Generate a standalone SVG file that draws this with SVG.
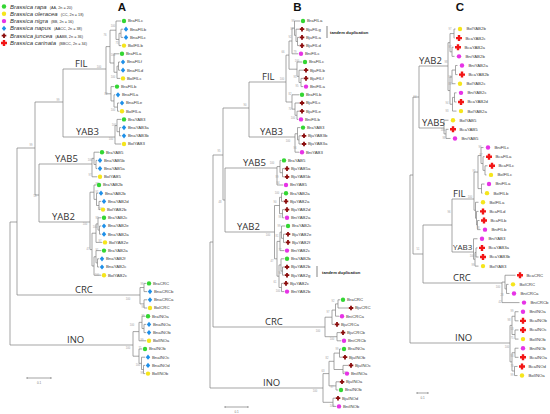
<svg xmlns="http://www.w3.org/2000/svg" xmlns:xlink="http://www.w3.org/1999/xlink" width="550" height="414" viewBox="0 0 550 414">
<style>
.t{fill:none;stroke:#7f7f7f;stroke-width:0.7}
.sb{fill:none;stroke:#666;stroke-width:0.6}
.lf text{font-family:"Liberation Sans",Arial,sans-serif;font-size:4.3px;fill:#3a3a3a}
.bs{font-family:"Liberation Sans",Arial,sans-serif;font-size:2.6px;fill:#9a9a9a;text-anchor:middle}
.cl{font-family:"Open Sans","Liberation Sans",sans-serif;font-size:9.5px;fill:#333}
.pl{font-family:"Liberation Sans",Arial,sans-serif;font-weight:bold;font-size:11.5px;fill:#111;text-anchor:middle}
.td{font-family:"Liberation Sans",Arial,sans-serif;font-weight:bold;font-size:4.2px;fill:#222}
.lg{font-family:"Liberation Sans",Arial,sans-serif;font-style:italic;font-size:6px;fill:#333}
.lg2{font-style:normal;font-size:3.8px}
.sc{font-family:"Liberation Sans",Arial,sans-serif;font-size:3px;fill:#777;text-anchor:middle}
</style>
<defs>
<circle id="mg" r="2.2" fill="#33d633"/>
<circle id="my" r="2.2" fill="#f5e51b"/>
<circle id="mm" r="2.2" fill="#e633e6"/>
<path id="mb" d="M0-2.6L2.2 0L0 2.6L-2.2 0Z" fill="#1e8fe8"/>
<path id="mj" d="M-0.9-2.3h1.8v1.4h1.4v1.8h-1.4v1.4h-1.8v-1.4h-1.4v-1.8h1.4z" fill="#8b0d0d"/>
<path id="mc" d="M-1.2-3h2.4v1.8h1.8v2.4h-1.8v1.8h-2.4v-1.8h-1.8v-2.4h1.8z" fill="#f21515"/>
</defs>
<rect width="550" height="414" fill="#fff"/>

<g id="legend">
<use href="#mg" x="4" y="6.5"/><text class="lg" x="10" y="8.5">Brassica rapa<tspan class="lg2" dx="3">(AA, 2n = 20)</tspan></text>
<use href="#my" x="4" y="13.8"/><text class="lg" x="10" y="15.8">Brassica oleracea<tspan class="lg2" dx="3">(CC, 2n = 18)</tspan></text>
<use href="#mm" x="4" y="21.1"/><text class="lg" x="10" y="23.1">Brassica nigra<tspan class="lg2" dx="3">(BB, 2n = 16)</tspan></text>
<use href="#mb" x="4" y="28.4"/><text class="lg" x="10" y="30.4">Brassica napus<tspan class="lg2" dx="3">(AACC, 2n = 38)</tspan></text>
<use href="#mj" x="4" y="35.7"/><text class="lg" x="10" y="37.7">Brassica juncea<tspan class="lg2" dx="3">(AABB, 2n = 36)</tspan></text>
<use href="#mc" x="4" y="43"/><text class="lg" x="10" y="45">Brassica carinata<tspan class="lg2" dx="3">(BBCC, 2n = 34)</tspan></text>
</g>

<g id="panel-labels">
<text class="pl" x="122" y="10.5">A</text>
<text class="pl" x="297.5" y="10.5">B</text>
<text class="pl" x="460" y="11">C</text>
</g>

<g id="connectors">
<path class="t" d="M121 29.2V37.4M121 29.2H123.2M121 37.4H123.2M119 33.3V45.6M119 33.3H121M119 45.6H121.2M116 21V39.45M116 21H121.2M116 39.45H119M118.5 62V70.2M118.5 62H120.2M118.5 70.2H120.2M117 66.1V78.4M117 66.1H118.5M117 78.4H120.2M114 53.8V72.25M114 53.8H119.2M114 72.25H117M110 30.2V63M110 30.2H116M110 63H114M117.5 103V111.2M117.5 103H119.2M117.5 111.2H119.2M114 94.8V107.1M114 94.8H115.2M114 107.1H117.5M111 86.6V100.95M111 86.6H114.2M111 100.95H114M106 46.6V93.8M106 46.6H110M106 93.8H111M63 69H106M119.5 127.6V135.8M119.5 127.6H121.2M119.5 135.8H121.2M117 119.4V131.7M117 119.4H121.2M117 131.7H119.5M115 125.55V144M115 125.55H117M115 144H121.2M63 137H115M63 69V137M35 102H63M96 160.4V168.6M96 160.4H97.2M96 168.6H97.2M94 152.2V164.5M94 152.2H99.2M94 164.5H96M92 158.35V176.8M92 158.35H94M92 176.8H97.2M39 164H92M99 201.4V209.6M99 201.4H101.2M99 209.6H100.2M96.5 193.2V205.5M96.5 193.2H98.2M96.5 205.5H99M94 185V199.35M94 185H96.2M94 199.35H96.5M99.5 226V234.2M99.5 226H101.2M99.5 234.2H101.2M98 217.8V230.1M98 217.8H101.2M98 230.1H99.5M96 223.95V242.4M96 223.95H98M96 242.4H102.2M97.5 258.8V267M97.5 258.8H99.2M97.5 267H99.2M96 250.6V262.9M96 250.6H101.2M96 262.9H97.5M94 256.75V275.2M94 256.75H96M94 275.2H101.2M92 233.2V266M92 233.2H96M92 266H94M90 192.2V249.6M90 192.2H94M90 249.6H92M39 222H90M39 164V222M35 195H39M35 102V195M17 148H35M144 283.4V291.6M144 283.4H146.2M144 291.6H147.2M144 299.8V308M144 299.8H147.2M144 308H147.2M140 287.5V303.9M140 287.5H144M140 303.9H144M17 295H140M17 148V295M10 222H17M144 324.4V332.6M144 324.4H146.2M144 332.6H146.2M142 316.2V328.5M142 316.2H145.2M142 328.5H144M139 322.35V340.8M139 322.35H142M139 340.8H146.2M143.5 365.4V373.6M143.5 365.4H145.2M143.5 373.6H145.2M141.5 357.2V369.5M141.5 357.2H145.2M141.5 369.5H143.5M139 349V363.35M139 349H142.2M139 363.35H141.5M133 331.6V356.2M133 331.6H139M133 356.2H139M10 345H133M10 222V345"/>
<path class="t" d="M297.5 37.4V45.6M297.5 37.4H299.2M297.5 45.6H299.2M296 29.2V41.5M296 29.2H299.2M296 41.5H297.5M294.5 21V35.35M294.5 21H300.2M294.5 35.35H296M292 28.2V53.8M292 28.2H294.5M292 53.8H298.2M301 78.4V86.6M301 78.4H303.2M301 86.6H303.2M299 70.2V82.5M299 70.2H303.2M299 82.5H301M297 62V76.35M297 62H302.2M297 76.35H299M289 41V69.2M289 41H292M289 69.2H297M297 111.2V119.4M297 111.2H299.2M297 119.4H298.2M295 103V115.3M295 103H299.2M295 115.3H297M292 94.8V109.15M292 94.8H299.2M292 109.15H295M286 55.1V102M286 55.1H289M286 102H292M249 82H286M299 135.8V144M299 135.8H301.2M299 144H301.2M297.5 127.6V139.9M297.5 127.6H300.2M297.5 139.9H299M295 133.75V152.2M295 133.75H297.5M295 152.2H299.2M249 137H295M249 82V137M223 108H249M282.5 168.6V176.8M282.5 168.6H284.2M282.5 176.8H284.2M280 160.4V172.7M280 160.4H281.2M280 172.7H282.5M277 166.55V185M277 166.55H280M277 185H283.2M225 168H277M281.5 193.2V201.4M281.5 193.2H283.2M281.5 201.4H283.2M282.5 209.6V217.8M282.5 209.6H284.2M282.5 217.8H284.2M279.5 197.3V213.7M279.5 197.3H281.5M279.5 213.7H282.5M283.5 234.2V242.4M283.5 234.2H285.2M283.5 242.4H285.2M281.5 226V238.3M281.5 226H285.2M281.5 238.3H283.5M280 232.15V250.6M280 232.15H281.5M280 250.6H284.2M282.5 267V275.2M282.5 267H284.2M282.5 275.2H284.2M281 258.8V271.1M281 258.8H284.2M281 271.1H282.5M281.5 283.4V291.6M281.5 283.4H283.2M281.5 291.6H284.2M279 264.95V287.5M279 264.95H281M279 287.5H281.5M277 241.4V276.2M277 241.4H280M277 276.2H279M274.5 205.5V258.8M274.5 205.5H279.5M274.5 258.8H277M225 232H274.5M225 168V232M223 200H225M223 108V200M213 155H223M338 299.8V308M338 299.8H340.2M338 308H348.2M335.5 303.9V316.2M335.5 303.9H338M335.5 316.2H339.2M332 310.05V324.4M332 310.05H335.5M332 324.4H334.2M337 332.6V340.8M337 332.6H340.2M337 340.8H341.2M325 317.2V336.7M325 317.2H332M325 336.7H337M213 327H325M213 155V327M210 242H213M339.5 349V357.2M339.5 349H341.2M339.5 357.2H342.2M343 365.4V373.6M343 365.4H348.2M343 373.6H344.2M334 353.1V369.5M334 353.1H339.5M334 369.5H343M336 381.8V390M336 381.8H339.2M336 390H338.2M329 361.3V385.9M329 361.3H334M329 385.9H336M333 398.2V406.4M333 398.2H335.2M333 406.4H336.2M323 373.6V402.3M323 373.6H329M323 402.3H333M210 388H323M210 242V388"/>
<path class="t" d="M454 29V38.12M454 29H455.5M454 38.12H454.5M452 47.24V56.36M452 47.24H453.5M452 56.36H454.5M450 33.56V51.8M450 33.56H454M450 51.8H452M455.5 65.48V74.6M455.5 65.48H457.5M455.5 74.6H457.5M452 70.04V83.72M452 70.04H455.5M452 83.72H455.5M454.5 92.84V101.96M454.5 92.84H456.5M454.5 101.96H456.5M452.5 97.4V111.08M452.5 97.4H454.5M452.5 111.08H456.5M450 76.88V104.24M450 76.88H452M450 104.24H452.5M448 42.68V90.56M448 42.68H450M448 90.56H450M419 66H448M446 129.32V138.44M446 129.32H448.5M446 138.44H450.5M444 120.2V133.88M444 120.2H448.5M444 133.88H446M419 128H444M419 66V128M413 97H419M485 165.8V174.92M485 165.8H487.5M485 174.92H486.5M483 156.68V170.36M483 156.68H484.5M483 170.36H485M481 147.56V163.52M481 147.56H483.5M481 163.52H483M481.5 184.04V193.16M481.5 184.04H484.5M481.5 193.16H482.5M478 155.54V188.6M478 155.54H481M478 188.6H481.5M477.5 220.52V229.64M477.5 220.52H479.5M477.5 229.64H480.5M476.5 211.4V225.08M476.5 211.4H478.5M476.5 225.08H477.5M475.5 202.28V218.24M475.5 202.28H478.5M475.5 218.24H476.5M474 172.07V210.26M474 172.07H478M474 210.26H475.5M452 199H474M476 247.88V257M476 247.88H477.5M476 257H478.5M475 252.44V266.12M475 252.44H476M475 266.12H478.5M473.5 238.76V259.28M473.5 238.76H477.5M473.5 259.28H475M452 252H473.5M452 199V252M423 225H452M506.5 284.36V293.48M506.5 284.36H508.5M506.5 293.48H509.5M505 275.24V288.92M505 275.24H515.5M505 288.92H506.5M502 282.08V302.6M502 282.08H505M502 302.6H519.5M423 283H502M423 225V283M413 254H423M413 97V254M410 175H413M515 311.72V320.84M515 311.72H518.5M515 320.84H518.5M515 329.96V339.08M515 329.96H518.5M515 339.08H518.5M512 316.28V334.52M512 316.28H515M512 334.52H515M515 348.2V357.32M515 348.2H518.5M515 357.32H518.5M514.5 366.44V375.56M514.5 366.44H517.5M514.5 375.56H517.5M512 352.76V371M512 352.76H515M512 371H514.5M510 325.4V361.88M510 325.4H512M510 361.88H512M410 343H510M410 175V343"/>
</g>

<g id="clade-labels">
<text class="cl" x="75" y="66.5">FIL</text>
<text class="cl" x="76" y="134.5">YAB3</text>
<text class="cl" x="55" y="161.5">YAB5</text>
<text class="cl" x="52" y="219.5">YAB2</text>
<text class="cl" x="75" y="292.5">CRC</text>
<text class="cl" x="67" y="342.5">INO</text>
<text class="cl" x="262" y="79.5">FIL</text>
<text class="cl" x="260" y="134.5">YAB3</text>
<text class="cl" x="243" y="165.5">YAB5</text>
<text class="cl" x="237" y="229.5">YAB2</text>
<text class="cl" x="265" y="324.5">CRC</text>
<text class="cl" x="263" y="385.5">INO</text>
<text class="cl" x="419" y="63.5">YAB2</text>
<text class="cl" x="422" y="125.5">YAB5</text>
<text class="cl" x="453" y="196.5">FIL</text>
<text class="cl" x="453" y="249.5" style="font-size:8px">YAB3</text>
<text class="cl" x="453" y="280.5">CRC</text>
<text class="cl" x="455" y="340.5">INO</text>
</g>

<g id="tandem">
<path d="M327 26V38M317 266V277" stroke="#333" stroke-width="0.6"/>
<text class="td" x="330" y="34">tandem duplication</text>
<text class="td" x="322" y="273.5">tandem duplication</text>
</g>

<g id="scalebars">
<path class="sb" d="M27 378H51M27 377V379M51 377V379M225 407H248M225 406V408M248 406V408M417 393H428M417 392V394M428 392V394"/>
<text class="sc" x="39" y="384">0.1</text>
<text class="sc" x="236.5" y="412.5">0.1</text>
<text class="sc" x="422.5" y="399">0.1</text>
</g>

<g id="bootstrap" class="bs">
<text x="113" y="27">100</text><text x="105" y="36">76</text><text x="117" y="44">75</text><text x="99" y="68">100</text><text x="113" y="56">100</text><text x="113" y="78">100</text><text x="106" y="95">82</text><text x="113" y="111">100</text><text x="58" y="101">99</text><text x="31" y="146">99</text><text x="35" y="197">58</text><text x="114" y="126">100</text><text x="111" y="140">100</text><text x="90" y="161">100</text><text x="90" y="176">97</text><text x="97" y="185">98</text><text x="97" y="193">91</text><text x="100" y="210">100</text><text x="97" y="219">98</text><text x="95" y="228">100</text><text x="85" y="225">100</text><text x="100" y="242">97</text><text x="88" y="250">47</text><text x="97" y="251">91</text><text x="97" y="276">100</text><text x="142" y="285">99</text><text x="128" y="300">100</text><text x="143" y="308">99</text><text x="143" y="317">99</text><text x="132" y="326">100</text><text x="142" y="341">99</text><text x="128" y="349">100</text><text x="140" y="349">71</text><text x="138" y="366">100</text><text x="142" y="374">99</text>
<text x="293" y="22">99</text><text x="292" y="30">87</text><text x="290" y="38">92</text><text x="295" y="53">79</text><text x="283" y="53">66</text><text x="297" y="62">100</text><text x="295" y="78">95</text><text x="297" y="87">95</text><text x="290" y="95">82</text><text x="290" y="110">70</text><text x="293" y="119">100</text><text x="245" y="106">90</text><text x="282" y="80">100</text><text x="288" y="142">100</text><text x="295" y="149">96</text><text x="219" y="152">95</text><text x="272" y="164">100</text><text x="277" y="178">99</text><text x="278" y="184">94</text><text x="277" y="194">100</text><text x="275" y="203">90</text><text x="280" y="218">98</text><text x="279" y="227">99</text><text x="268" y="236">100</text><text x="277" y="237">81</text><text x="280" y="251">77</text><text x="220" y="203">48</text><text x="272" y="262">47</text><text x="280" y="274">90</text><text x="275" y="283">61</text><text x="278" y="292">100</text><text x="333" y="302">92</text><text x="328" y="313">97</text><text x="318" y="332">100</text><text x="332" y="340">100</text><text x="337" y="350">99</text><text x="327" y="359">82</text><text x="345" y="374">99</text><text x="323" y="372">63</text><text x="332" y="388">97</text><text x="315" y="392">100</text><text x="332" y="407">100</text>
<text x="450" y="30">97</text><text x="450" y="48">97</text><text x="446" y="63">98</text><text x="450" y="78">96</text><text x="450" y="85">88</text><text x="447" y="104">94</text><text x="447" y="112">93</text><text x="415" y="98">54</text><text x="443" y="131">100</text><text x="444" y="139">98</text><text x="480" y="148">96</text><text x="481" y="156">87</text><text x="474" y="172">95</text><text x="470" y="198">100</text><text x="449" y="213">96</text><text x="478" y="229">98</text><text x="418" y="250">51</text><text x="472" y="257">100</text><text x="473" y="266">99</text><text x="498" y="288">100</text><text x="502" y="296">28</text><text x="500" y="303">42</text><text x="512" y="312">99</text><text x="509" y="321">98</text><text x="512" y="330">53</text><text x="512" y="339">75</text><text x="507" y="348">100</text><text x="512" y="357">93</text><text x="512" y="367">70</text><text x="512" y="376">99</text>
</g>

<g id="leaves-A" class="lf">
<g id="a-BraFILc"><use href="#mg" x="124" y="21"/><text x="128" y="22.4">BraFILc</text></g>
<g id="a-BnaFILb"><use href="#mb" x="126" y="29.2"/><text x="130" y="30.6">BnaFILb</text></g>
<g id="a-BnaFILc"><use href="#mb" x="126" y="37.4"/><text x="130" y="38.8">BnaFILc</text></g>
<g id="a-BolFILb"><use href="#my" x="124" y="45.6"/><text x="128" y="47">BolFILb</text></g>
<g id="a-BraFILa"><use href="#mg" x="122" y="53.8"/><text x="126" y="55.2">BraFILa</text></g>
<g id="a-BnaFILf"><use href="#mb" x="123" y="62"/><text x="127" y="63.4">BnaFILf</text></g>
<g id="a-BnaFILd"><use href="#mb" x="123" y="70.2"/><text x="127" y="71.6">BnaFILd</text></g>
<g id="a-BolFILc"><use href="#my" x="123" y="78.4"/><text x="127" y="79.8">BolFILc</text></g>
<g id="a-BraFILb"><use href="#mg" x="117" y="86.6"/><text x="121" y="88">BraFILb</text></g>
<g id="a-BnaFILa"><use href="#mb" x="118" y="94.8"/><text x="122" y="96.2">BnaFILa</text></g>
<g id="a-BnaFILe"><use href="#mb" x="122" y="103"/><text x="126" y="104.4">BnaFILe</text></g>
<g id="a-BolFILa"><use href="#my" x="122" y="111.2"/><text x="126" y="112.6">BolFILa</text></g>
<g id="a-BraYAB3"><use href="#mg" x="124" y="119.4"/><text x="128" y="120.8">BraYAB3</text></g>
<g id="a-BnaYAB3a"><use href="#mb" x="124" y="127.6"/><text x="128" y="129">BnaYAB3a</text></g>
<g id="a-BnaYAB3b"><use href="#mb" x="124" y="135.8"/><text x="128" y="137.2">BnaYAB3b</text></g>
<g id="a-BolYAB3"><use href="#my" x="124" y="144"/><text x="128" y="145.4">BolYAB3</text></g>
<g id="a-BraYAB5"><use href="#mg" x="102" y="152.2"/><text x="106" y="153.6">BraYAB5</text></g>
<g id="a-BnaYAB5b"><use href="#mb" x="100" y="160.4"/><text x="104" y="161.8">BnaYAB5b</text></g>
<g id="a-BnaYAB5a"><use href="#mb" x="100" y="168.6"/><text x="104" y="170">BnaYAB5a</text></g>
<g id="a-BolYAB5"><use href="#my" x="100" y="176.8"/><text x="104" y="178.2">BolYAB5</text></g>
<g id="a-BraYAB2b"><use href="#mg" x="99" y="185"/><text x="103" y="186.4">BraYAB2b</text></g>
<g id="a-BnaYAB2b"><use href="#mb" x="101" y="193.2"/><text x="105" y="194.6">BnaYAB2b</text></g>
<g id="a-BnaYAB2d"><use href="#mb" x="104" y="201.4"/><text x="108" y="202.8">BnaYAB2d</text></g>
<g id="a-BolYAB2b"><use href="#my" x="103" y="209.6"/><text x="107" y="211">BolYAB2b</text></g>
<g id="a-BraYAB2c"><use href="#mg" x="104" y="217.8"/><text x="108" y="219.2">BraYAB2c</text></g>
<g id="a-BnaYAB2e"><use href="#mb" x="104" y="226"/><text x="108" y="227.4">BnaYAB2e</text></g>
<g id="a-BnaYAB2a"><use href="#mb" x="104" y="234.2"/><text x="108" y="235.6">BnaYAB2a</text></g>
<g id="a-BolYAB2e"><use href="#my" x="105" y="242.4"/><text x="109" y="243.8">BolYAB2e</text></g>
<g id="a-BraYAB2a"><use href="#mg" x="104" y="250.6"/><text x="108" y="252">BraYAB2a</text></g>
<g id="a-BnaYAB2f"><use href="#mb" x="102" y="258.8"/><text x="106" y="260.2">BnaYAB2f</text></g>
<g id="a-BnaYAB2c"><use href="#mb" x="102" y="267"/><text x="106" y="268.4">BnaYAB2c</text></g>
<g id="a-BolYAB2c"><use href="#my" x="104" y="275.2"/><text x="108" y="276.6">BolYAB2c</text></g>
<g id="a-BraCRC"><use href="#mg" x="149" y="283.4"/><text x="153" y="284.8">BraCRC</text></g>
<g id="a-BnaCRCb"><use href="#mb" x="150" y="291.6"/><text x="154" y="293">BnaCRCb</text></g>
<g id="a-BnaCRCa"><use href="#mb" x="150" y="299.8"/><text x="154" y="301.2">BnaCRCa</text></g>
<g id="a-BolCRC"><use href="#my" x="150" y="308"/><text x="154" y="309.4">BolCRC</text></g>
<g id="a-BraINOa"><use href="#mg" x="148" y="316.2"/><text x="152" y="317.6">BraINOa</text></g>
<g id="a-BnaINOa"><use href="#mb" x="149" y="324.4"/><text x="153" y="325.8">BnaINOa</text></g>
<g id="a-BnaINOb"><use href="#mb" x="149" y="332.6"/><text x="153" y="334">BnaINOb</text></g>
<g id="a-BolINOa"><use href="#my" x="149" y="340.8"/><text x="153" y="342.2">BolINOa</text></g>
<g id="a-BraINOb"><use href="#mg" x="145" y="349"/><text x="149" y="350.4">BraINOb</text></g>
<g id="a-BnaINOc"><use href="#mb" x="148" y="357.2"/><text x="152" y="358.6">BnaINOc</text></g>
<g id="a-BnaINOd"><use href="#mb" x="148" y="365.4"/><text x="152" y="366.8">BnaINOd</text></g>
<g id="a-BolINOb"><use href="#my" x="148" y="373.6"/><text x="152" y="375">BolINOb</text></g>
</g>

<g id="leaves-B" class="lf">
<g id="b-BraFILa"><use href="#mg" x="303" y="21"/><text x="307" y="22.4">BraFILa</text></g>
<g id="b-BjuFILg"><use href="#mj" x="302" y="29.2"/><text x="306" y="30.6">BjuFILg</text></g>
<g id="b-BjuFILa"><use href="#mj" x="302" y="37.4"/><text x="306" y="38.8">BjuFILa</text></g>
<g id="b-BjuFILd"><use href="#mj" x="302" y="45.6"/><text x="306" y="47">BjuFILd</text></g>
<g id="b-BniFILc"><use href="#mm" x="301" y="53.8"/><text x="305" y="55.2">BniFILc</text></g>
<g id="b-BraFILc"><use href="#mg" x="305" y="62"/><text x="309" y="63.4">BraFILc</text></g>
<g id="b-BjuFILb"><use href="#mj" x="306" y="70.2"/><text x="310" y="71.6">BjuFILb</text></g>
<g id="b-BjuFILf"><use href="#mj" x="306" y="78.4"/><text x="310" y="79.8">BjuFILf</text></g>
<g id="b-BniFILa"><use href="#mm" x="306" y="86.6"/><text x="310" y="88">BniFILa</text></g>
<g id="b-BraFILb"><use href="#mg" x="302" y="94.8"/><text x="306" y="96.2">BraFILb</text></g>
<g id="b-BjuFILc"><use href="#mj" x="302" y="103"/><text x="306" y="104.4">BjuFILc</text></g>
<g id="b-BjuFILe"><use href="#mj" x="302" y="111.2"/><text x="306" y="112.6">BjuFILe</text></g>
<g id="b-BniFILb"><use href="#mm" x="301" y="119.4"/><text x="305" y="120.8">BniFILb</text></g>
<g id="b-BraYAB3"><use href="#mg" x="303" y="127.6"/><text x="307" y="129">BraYAB3</text></g>
<g id="b-BjuYAB3b"><use href="#mj" x="304" y="135.8"/><text x="308" y="137.2">BjuYAB3b</text></g>
<g id="b-BjuYAB3a"><use href="#mj" x="304" y="144"/><text x="308" y="145.4">BjuYAB3a</text></g>
<g id="b-BniYAB3"><use href="#mm" x="302" y="152.2"/><text x="306" y="153.6">BniYAB3</text></g>
<g id="b-BraYAB5"><use href="#mg" x="284" y="160.4"/><text x="288" y="161.8">BraYAB5</text></g>
<g id="b-BjuYAB5a"><use href="#mj" x="287" y="168.6"/><text x="291" y="170">BjuYAB5a</text></g>
<g id="b-BjuYAB5b"><use href="#mj" x="287" y="176.8"/><text x="291" y="178.2">BjuYAB5b</text></g>
<g id="b-BniYAB5"><use href="#mm" x="286" y="185"/><text x="290" y="186.4">BniYAB5</text></g>
<g id="b-BraYAB2a"><use href="#mg" x="286" y="193.2"/><text x="290" y="194.6">BraYAB2a</text></g>
<g id="b-BjuYAB2a"><use href="#mj" x="286" y="201.4"/><text x="290" y="202.8">BjuYAB2a</text></g>
<g id="b-BjuYAB2d"><use href="#mj" x="287" y="209.6"/><text x="291" y="211">BjuYAB2d</text></g>
<g id="b-BniYAB2a"><use href="#mm" x="287" y="217.8"/><text x="291" y="219.2">BniYAB2a</text></g>
<g id="b-BraYAB2c"><use href="#mg" x="288" y="226"/><text x="292" y="227.4">BraYAB2c</text></g>
<g id="b-BjuYAB2e"><use href="#mj" x="288" y="234.2"/><text x="292" y="235.6">BjuYAB2e</text></g>
<g id="b-BjuYAB2f"><use href="#mj" x="288" y="242.4"/><text x="292" y="243.8">BjuYAB2f</text></g>
<g id="b-BniYAB2c"><use href="#mm" x="287" y="250.6"/><text x="291" y="252">BniYAB2c</text></g>
<g id="b-BraYAB2b"><use href="#mg" x="287" y="258.8"/><text x="291" y="260.2">BraYAB2b</text></g>
<g id="b-BjuYAB2b"><use href="#mj" x="287" y="267"/><text x="291" y="268.4">BjuYAB2b</text></g>
<g id="b-BjuYAB2g"><use href="#mj" x="287" y="275.2"/><text x="291" y="276.6">BjuYAB2g</text></g>
<g id="b-BjuYAB2c"><use href="#mj" x="286" y="283.4"/><text x="290" y="284.8">BjuYAB2c</text></g>
<g id="b-BniYAB2b"><use href="#mm" x="287" y="291.6"/><text x="291" y="293">BniYAB2b</text></g>
<g id="b-BraCRC"><use href="#mg" x="343" y="299.8"/><text x="347" y="301.2">BraCRC</text></g>
<g id="b-BjuCRC"><use href="#mj" x="351" y="308"/><text x="355" y="309.4">BjuCRC</text></g>
<g id="b-BniCRCa"><use href="#mm" x="342" y="316.2"/><text x="346" y="317.6">BniCRCa</text></g>
<g id="b-BjuCRCa"><use href="#mj" x="337" y="324.4"/><text x="341" y="325.8">BjuCRCa</text></g>
<g id="b-BjuCRCb"><use href="#mj" x="343" y="332.6"/><text x="347" y="334">BjuCRCb</text></g>
<g id="b-BniCRCb"><use href="#mm" x="344" y="340.8"/><text x="348" y="342.2">BniCRCb</text></g>
<g id="b-BraINOa"><use href="#mg" x="344" y="349"/><text x="348" y="350.4">BraINOa</text></g>
<g id="b-BjuINOb"><use href="#mj" x="345" y="357.2"/><text x="349" y="358.6">BjuINOb</text></g>
<g id="b-BjuINOc"><use href="#mj" x="351" y="365.4"/><text x="355" y="366.8">BjuINOc</text></g>
<g id="b-BniINOa"><use href="#mm" x="347" y="373.6"/><text x="351" y="375">BniINOa</text></g>
<g id="b-BjuINOa"><use href="#mj" x="342" y="381.8"/><text x="346" y="383.2">BjuINOa</text></g>
<g id="b-BraINOb"><use href="#mg" x="341" y="390"/><text x="345" y="391.4">BraINOb</text></g>
<g id="b-BjuINOd"><use href="#mj" x="338" y="398.2"/><text x="342" y="399.6">BjuINOd</text></g>
<g id="b-BniINOb"><use href="#mm" x="339" y="406.4"/><text x="343" y="407.8">BniINOb</text></g>
</g>

<g id="leaves-C" class="lf">
<g id="c-BolYAB2b"><use href="#my" x="460" y="29"/><text x="466.5" y="30.4">BolYAB2b</text></g>
<g id="c-BcaYAB2c"><use href="#mc" x="459" y="38.12"/><text x="465.5" y="39.5">BcaYAB2c</text></g>
<g id="c-BcaYAB2a"><use href="#mc" x="458" y="47.24"/><text x="464.5" y="48.6">BcaYAB2a</text></g>
<g id="c-BniYAB2b"><use href="#mm" x="459" y="56.36"/><text x="465.5" y="57.8">BniYAB2b</text></g>
<g id="c-BniYAB2a"><use href="#mm" x="462" y="65.48"/><text x="468.5" y="66.9">BniYAB2a</text></g>
<g id="c-BcaYAB2b"><use href="#mc" x="462" y="74.6"/><text x="468.5" y="76">BcaYAB2b</text></g>
<g id="c-BolYAB2c"><use href="#my" x="460" y="83.72"/><text x="466.5" y="85.1">BolYAB2c</text></g>
<g id="c-BniYAB2c"><use href="#mm" x="461" y="92.84"/><text x="467.5" y="94.2">BniYAB2c</text></g>
<g id="c-BcaYAB2d"><use href="#mc" x="461" y="101.96"/><text x="467.5" y="103.4">BcaYAB2d</text></g>
<g id="c-BolYAB2a"><use href="#my" x="461" y="111.08"/><text x="467.5" y="112.5">BolYAB2a</text></g>
<g id="c-BolYAB5"><use href="#my" x="453" y="120.2"/><text x="459.5" y="121.6">BolYAB5</text></g>
<g id="c-BcaYAB5"><use href="#mc" x="453" y="129.32"/><text x="459.5" y="130.7">BcaYAB5</text></g>
<g id="c-BniYAB5"><use href="#mm" x="455" y="138.44"/><text x="461.5" y="139.8">BniYAB5</text></g>
<g id="c-BniFILc"><use href="#mm" x="488" y="147.56"/><text x="494.5" y="149">BniFILc</text></g>
<g id="c-BcaFILa"><use href="#mc" x="489" y="156.68"/><text x="495.5" y="158.1">BcaFILa</text></g>
<g id="c-BcaFILc"><use href="#mc" x="492" y="165.8"/><text x="498.5" y="167.2">BcaFILc</text></g>
<g id="c-BolFILc"><use href="#my" x="491" y="174.92"/><text x="497.5" y="176.3">BolFILc</text></g>
<g id="c-BniFILa"><use href="#mm" x="489" y="184.04"/><text x="495.5" y="185.4">BniFILa</text></g>
<g id="c-BolFILb"><use href="#my" x="487" y="193.16"/><text x="493.5" y="194.6">BolFILb</text></g>
<g id="c-BolFILa"><use href="#my" x="483" y="202.28"/><text x="489.5" y="203.7">BolFILa</text></g>
<g id="c-BcaFILd"><use href="#mc" x="483" y="211.4"/><text x="489.5" y="212.8">BcaFILd</text></g>
<g id="c-BcaFILb"><use href="#mc" x="484" y="220.52"/><text x="490.5" y="221.9">BcaFILb</text></g>
<g id="c-BniFILb"><use href="#mm" x="485" y="229.64"/><text x="491.5" y="231">BniFILb</text></g>
<g id="c-BniYAB3"><use href="#mm" x="482" y="238.76"/><text x="488.5" y="240.2">BniYAB3</text></g>
<g id="c-BcaYAB3a"><use href="#mc" x="482" y="247.88"/><text x="488.5" y="249.3">BcaYAB3a</text></g>
<g id="c-BcaYAB3b"><use href="#mc" x="483" y="257"/><text x="489.5" y="258.4">BcaYAB3b</text></g>
<g id="c-BolYAB3"><use href="#my" x="483" y="266.12"/><text x="489.5" y="267.5">BolYAB3</text></g>
<g id="c-BcaCRC"><use href="#mc" x="520" y="275.24"/><text x="526.5" y="276.6">BcaCRC</text></g>
<g id="c-BolCRC"><use href="#my" x="513" y="284.36"/><text x="519.5" y="285.8">BolCRC</text></g>
<g id="c-BniCRCa"><use href="#mm" x="514" y="293.48"/><text x="520.5" y="294.9">BniCRCa</text></g>
<g id="c-BniCRCb"><use href="#mm" x="524" y="302.6"/><text x="530.5" y="304">BniCRCb</text></g>
<g id="c-BniINOa"><use href="#mm" x="523" y="311.72"/><text x="529.5" y="313.1">BniINOa</text></g>
<g id="c-BcaINOb"><use href="#mc" x="523" y="320.84"/><text x="529.5" y="322.2">BcaINOb</text></g>
<g id="c-BcaINOc"><use href="#mc" x="523" y="329.96"/><text x="529.5" y="331.4">BcaINOc</text></g>
<g id="c-BolINOb"><use href="#my" x="523" y="339.08"/><text x="529.5" y="340.5">BolINOb</text></g>
<g id="c-BniINOb"><use href="#mm" x="523" y="348.2"/><text x="529.5" y="349.6">BniINOb</text></g>
<g id="c-BcaINOa"><use href="#mc" x="523" y="357.32"/><text x="529.5" y="358.7">BcaINOa</text></g>
<g id="c-BcaINOd"><use href="#mc" x="522" y="366.44"/><text x="528.5" y="367.8">BcaINOd</text></g>
<g id="c-BolINOa"><use href="#my" x="522" y="375.56"/><text x="528.5" y="377">BolINOa</text></g>
</g>
</svg>
